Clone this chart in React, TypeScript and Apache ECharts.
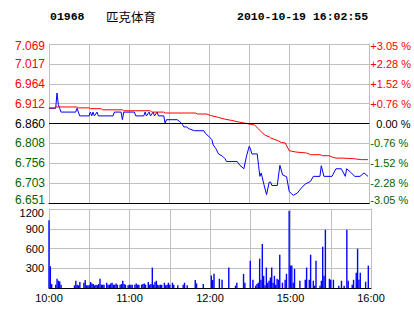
import React, { useEffect, useRef } from 'react';
import * as echarts from 'echarts';

const titleCode = '01968';
const titleName = '匹克体育';
const titleTime = '2010-10-19 16:02:55';

const timeTickValues = [0, 60, 120, 180, 240];
const timeLabels = ['10:00', '11:00', '12:00', '15:00', '16:00'];

const priceLabels = ['6.651', '6.703', '6.756', '6.808', '6.860', '6.912', '6.964', '7.017', '7.069'];
const pctLabels = ['-3.05 %', '-2.28 %', '-1.52 %', '-0.76 %', '0.00 %', '+0.76 %', '+1.52 %', '+2.28 %', '+3.05 %'];

const priceMin = 6.651;
const priceMax = 7.069;
const prevClose = 6.86;

const pricePoints: [number, number][] = [
  [0, 6.9], [5, 6.9], [6, 6.94], [7, 6.91], [8, 6.9], [9, 6.89], [20, 6.89], [21, 6.9], [22, 6.89], [23, 6.88],
  [30, 6.88], [31, 6.89], [32, 6.88], [33, 6.89], [34, 6.88], [36, 6.89], [37, 6.88], [48, 6.88], [49, 6.89],
  [54, 6.89], [55, 6.87], [56, 6.89], [64, 6.89], [65, 6.88], [71, 6.88], [72, 6.89], [73, 6.88], [75, 6.89],
  [76, 6.88], [78, 6.89], [79, 6.88], [81, 6.89], [82, 6.88], [86, 6.88], [87, 6.86], [88, 6.87], [96, 6.87],
  [98, 6.865], [100, 6.857], [101, 6.851], [103, 6.851], [105, 6.846], [109, 6.841], [116, 6.841], [117, 6.835],
  [120, 6.825], [122, 6.818], [123, 6.804], [125, 6.794], [127, 6.78], [130, 6.774], [132, 6.767], [133, 6.76],
  [141, 6.76], [143, 6.75], [146, 6.741], [148, 6.775], [150, 6.8], [151, 6.793], [152, 6.78], [156, 6.78],
  [157, 6.75], [158, 6.721], [159, 6.73], [161, 6.7], [163, 6.673], [165, 6.706], [166, 6.706], [167, 6.697],
  [171, 6.697], [173, 6.75], [175, 6.725], [178, 6.72], [180, 6.681], [183, 6.671], [186, 6.677], [189, 6.69],
  [192, 6.701], [196, 6.708], [198, 6.721], [203, 6.721], [204, 6.749], [206, 6.721], [212, 6.721], [215, 6.741],
  [219, 6.741], [222, 6.721], [223, 6.741], [226, 6.732], [229, 6.721], [233, 6.721], [236, 6.73], [239, 6.721],
];

const avgPoints: [number, number][] = [
  [0, 6.901], [4, 6.901], [5, 6.9035], [21, 6.9035], [22, 6.901], [30, 6.901], [31, 6.899], [39, 6.899],
  [40, 6.896], [55, 6.896], [56, 6.8935], [76, 6.8935], [77, 6.89], [86, 6.89], [87, 6.8876], [110, 6.8876],
  [111, 6.885], [118, 6.885], [121, 6.881], [127, 6.876], [131, 6.872], [137, 6.868], [142, 6.864], [148, 6.86],
  [154, 6.856], [157, 6.846], [159, 6.838], [162, 6.829], [165, 6.825], [166, 6.822], [171, 6.8156],
  [174, 6.8103], [177, 6.8087], [180, 6.7885], [185, 6.785], [193, 6.7824], [196, 6.778], [203, 6.778],
  [205, 6.7753], [210, 6.7753], [212, 6.772], [215, 6.769], [220, 6.769], [228, 6.7675], [234, 6.765], [239, 6.765],
];

const volumePoints: [number, number][] = [
  [0, 1030], [1, 330], [2, 60], [5, 50], [6, 140], [7, 110], [8, 100], [9, 50], [19, 40], [20, 110], [21, 50],
  [22, 40], [23, 90], [26, 80], [27, 120], [28, 40], [29, 40], [30, 40], [31, 90], [32, 70], [33, 60], [34, 40],
  [35, 50], [36, 40], [37, 60], [38, 140], [39, 50], [40, 50], [41, 50], [43, 80], [44, 50], [45, 50], [46, 70],
  [47, 80], [48, 50], [49, 50], [50, 70], [51, 50], [53, 50], [54, 60], [55, 110], [56, 60], [57, 50], [59, 40],
  [60, 50], [61, 50], [62, 50], [64, 50], [65, 70], [66, 50], [67, 50], [69, 50], [70, 60], [71, 70], [72, 50],
  [74, 90], [75, 50], [76, 60], [77, 310], [78, 50], [79, 90], [80, 110], [81, 50], [82, 40], [83, 50], [84, 50],
  [86, 80], [87, 40], [88, 50], [89, 80], [90, 50], [92, 80], [93, 50], [96, 40], [100, 50], [101, 80], [103, 40],
  [109, 120], [110, 70], [115, 60], [121, 190], [122, 120], [123, 215], [127, 140], [129, 125], [134, 310],
  [139, 35], [140, 80], [145, 215], [146, 80], [150, 415], [152, 125], [154, 35], [155, 60], [156, 80], [157, 445],
  [158, 125], [159, 670], [160, 185], [161, 40], [162, 310], [163, 80], [164, 110], [165, 160], [166, 310],
  [167, 80], [168, 185], [169, 50], [170, 140], [171, 125], [172, 505], [174, 80], [176, 125], [177, 215],
  [179, 1175], [180, 340], [181, 340], [182, 80], [183, 290], [187, 110], [191, 125], [192, 310], [194, 125],
  [195, 505], [197, 110], [198, 35], [199, 415], [202, 35], [203, 110], [204, 627], [205, 185], [206, 885],
  [209, 140], [210, 125], [212, 125], [216, 35], [218, 110], [220, 35], [222, 885], [223, 110], [226, 50],
  [227, 125], [229, 232], [230, 597], [231, 125], [232, 232], [236, 95], [238, 340],
];

const RED = '#ff0000';
const GREEN = '#006400';
const BLUE = '#0000ff';
const GRID = '#c0c0c0';

export default function App() {
  const ref = useRef<HTMLDivElement>(null);
  useEffect(() => {
    document.body.style.margin = '0';
    if (!ref.current) return;
    const chart = echarts.init(ref.current, undefined, { renderer: 'svg' });
    const step = (priceMax - priceMin) / 8;
    const idx = (v: number) => Math.round((v - priceMin) / step);
    const labelColor = (v: any) => {
      const i = idx(Number(v));
      return i > 4 ? RED : i === 4 ? '#000000' : GREEN;
    };
    const axisFont = 'Liberation Sans';
    const wrap = (i: number, text: string, size: number) => {
      if (i === 8) return '{top' + size + '|' + text + '}';
      if (i === 0) return '{bot' + size + '|' + text + '}';
      if (i === 4 && size === 11) return '{z|' + text + '}';
      return text;
    };
    const richFor = (size: number) => ({
      ['top' + size]: { padding: [4, 0, 0, 0], fontFamily: axisFont, fontSize: size, color: RED },
      ['bot' + size]: { padding: [0, 0, 6, 0], fontFamily: axisFont, fontSize: size, color: GREEN },
      z: { padding: [0, 0, 0, 6], fontFamily: axisFont, fontSize: size, color: '#000' },
    });
    chart.setOption({
      animation: false,
      backgroundColor: '#ffffff',
      graphic: [
        { type: 'text', x: 50, y: 16, style: { text: titleCode, fill: '#000', font: 'bold 11.5px "Liberation Mono"', verticalAlign: 'middle' } },
        { type: 'text', x: 106, y: 16, style: { text: titleName, fill: '#000', font: '12.5px "Noto Sans CJK SC"', verticalAlign: 'middle' } },
        { type: 'text', x: 237, y: 16, style: { text: titleTime, fill: '#000', font: 'bold 11.5px "Liberation Mono"', verticalAlign: 'middle' } },
      ],
      grid: [
        { left: 49, right: 43, top: 44, height: 159 },
        { left: 49, right: 43, top: 209, height: 79 },
      ],
      xAxis: [
        {
          type: 'value', gridIndex: 0, min: 0, max: 240, interval: 30,
          axisLabel: { show: false }, axisTick: { show: false },
          axisLine: { lineStyle: { color: '#000', width: 1 } },
          splitLine: { show: true, lineStyle: { color: GRID, width: 1 } },
        },
        {
          type: 'value', gridIndex: 1, min: 0, max: 240, interval: 30,
          axisTick: { show: false },
          axisLine: { lineStyle: { color: '#000', width: 1 } },
          splitLine: { show: true, lineStyle: { color: GRID, width: 1 } },
          axisLabel: {
            margin: 4, color: '#000', fontFamily: axisFont, fontSize: 11, showMinLabel: true, showMaxLabel: true,
            formatter: (v: number) => {
              const i = timeTickValues.indexOf(Math.round(v));
              return i >= 0 ? timeLabels[i] : '';
            },
          },
        },
      ],
      yAxis: [
        {
          type: 'value', gridIndex: 0, min: priceMin, max: priceMax, interval: step, position: 'left',
          axisTick: { show: false },
          axisLine: { show: true, lineStyle: { color: GRID } },
          splitLine: { show: true, lineStyle: { color: GRID, width: 1 } },
          axisLabel: {
            margin: 4, fontFamily: axisFont, fontSize: 12, color: labelColor,
            formatter: (v: number) => {
              const i = idx(v);
              return wrap(i, priceLabels[i] ?? '', 12);
            },
            rich: richFor(12),
          },
        },
        {
          type: 'value', gridIndex: 0, min: priceMin, max: priceMax, interval: step, position: 'right',
          axisTick: { show: false },
          axisLine: { show: true, lineStyle: { color: GRID } },
          splitLine: { show: false },
          axisLabel: {
            margin: 1, fontFamily: axisFont, fontSize: 11, color: labelColor,
            formatter: (v: number) => {
              const i = idx(v);
              return wrap(i, pctLabels[i] ?? '', 11);
            },
            rich: richFor(11),
          },
        },
        {
          type: 'value', gridIndex: 1, min: 0, max: 1200, interval: 300,
          axisTick: { show: false },
          axisLine: { show: true, lineStyle: { color: GRID } },
          splitLine: { show: true, lineStyle: { color: GRID, width: 1 } },
          axisLabel: {
            margin: 5, fontFamily: axisFont, fontSize: 11, color: '#000',
            formatter: (v: number) => (v === 0 ? '' : v === 1200 ? '{t|' + v + '}' : String(v)),
            rich: { t: { padding: [7, 0, 0, 0], fontFamily: axisFont, fontSize: 11, color: '#000' } },
          },
        },
        {
          type: 'value', gridIndex: 1, min: 0, max: 1200, interval: 300, position: 'right',
          axisTick: { show: false }, axisLabel: { show: false },
          axisLine: { show: true, lineStyle: { color: GRID } },
          splitLine: { show: false },
        },
      ],
      series: [
        {
          type: 'line', name: 'price', xAxisIndex: 0, yAxisIndex: 0, data: pricePoints,
          symbol: 'none', lineStyle: { color: BLUE, width: 1 }, itemStyle: { color: BLUE }, z: 3,
          markLine: {
            silent: true, symbol: 'none', label: { show: false },
            lineStyle: { color: '#000', width: 1, type: 'solid' },
            data: [{ yAxis: prevClose }],
          },
        },
        {
          type: 'line', name: 'avg', xAxisIndex: 0, yAxisIndex: 0, data: avgPoints,
          symbol: 'none', lineStyle: { color: RED, width: 1 }, itemStyle: { color: RED }, z: 4,
        },
        {
          type: 'bar', name: 'volume', xAxisIndex: 1, yAxisIndex: 2, data: volumePoints,
          barWidth: 1.4, itemStyle: { color: BLUE },
        },
      ],
    });
    return () => chart.dispose();
  }, []);
  return <div ref={ref} style={{ position: 'absolute', left: 0, top: 0, width: 414, height: 314 }} />;
}
